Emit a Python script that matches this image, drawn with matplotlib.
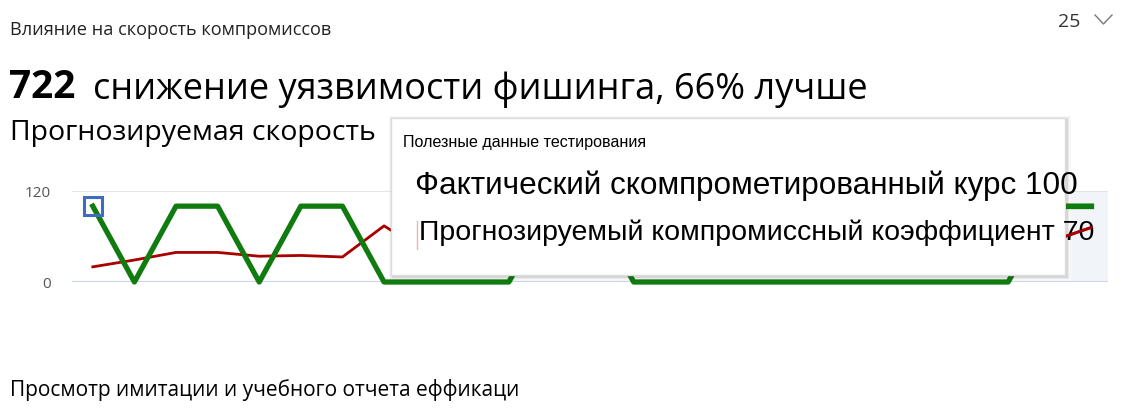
import matplotlib
matplotlib.use("Agg")
import matplotlib.pyplot as plt
from matplotlib.patches import Rectangle
from matplotlib.lines import Line2D

W, H = 1122, 415

# data (points under the tooltip are rough guesses)
points = list(range(25))
actual = [100, 0, 100, 100, 0, 100, 100, 0, 0, 0, 0, 100, 100,
          0, 0, 0, 0, 0, 0, 0, 0, 0, 0, 100, 100]
predicted = [20, 29, 39, 39, 34, 35, 33, 74, 40, 38, 36, 35, 38,
             40, 42, 40, 38, 36, 40, 45, 42, 40, 45, 53, 72]
y_ticks = [0, 120]

title = "Влияние на скорость компромиссов"
big_num = "722"
headline = "снижение уязвимости фишинга, 66% лучше"
subtitle = "Прогнозируемая скорость"
footer = "Просмотр имитации и учебного отчета еффикаци"
tip_title = "Полезные данные тестирования"
tip_actual = "Фактический скомпрометированный курс 100"
tip_pred = "Прогнозируемый компромиссный коэффициент 70"

GREEN = "#107c10"
RED = "#a80000"
UI = ["Open Sans", "DejaVu Sans"]
TIP = ["Liberation Sans Narrow", "Liberation Sans", "DejaVu Sans"]


def px(x, y):
    return x / W, 1 - y / H


fig = plt.figure(figsize=(W / 100, H / 100), dpi=100)
fig.patch.set_facecolor("white")

# plot area: x 72..1108, y(120)=191, y(0)=282
ax = fig.add_axes([72 / W, 1 - 282 / H, (1108 - 72) / W, 91 / H])
ax.set_xlim(-0.5, 24.4)
ax.set_ylim(0, 120)
for s in ax.spines.values():
    s.set_visible(False)
ax.set_xticks([])
ax.set_yticks(y_ticks)
ax.set_yticklabels([str(v) for v in y_ticks], color="#555555", fontsize=11, family=UI)
ax.tick_params(axis="y", length=0, pad=15)
ax.axhline(120, color="#e1e1e1", lw=1.2, zorder=1)
ax.axhline(0, color="#c9d5ea", lw=1.5, zorder=1)
ax.axvspan(23.5, 24.4, ymin=0, ymax=1, color="#f1f4f9", lw=0, zorder=0)

ax.plot(points, predicted, color=RED, lw=2.0, zorder=3)
ax.plot(points, actual, color=GREEN, lw=3.8, zorder=4, clip_on=False)
# hover marker on the first point
ax.plot(points[0], actual[0], marker="s", ms=13, mfc="none", mec="#3f6cc0",
        mew=2.2, zorder=5, clip_on=False)

# header texts
fig.text(*px(10, 30), title, fontsize=13.1, family=UI, va="center", color="#222222")
fig.text(*px(9, 87), big_num, fontsize=28, family=UI, weight="bold", va="center")
fig.text(*px(93, 90), headline, fontsize=26, family=UI, va="center")
fig.text(*px(10, 133), subtitle, fontsize=20.5, family=UI, va="center")
fig.text(*px(10, 390), footer, fontsize=15, family=UI, va="center")
fig.text(*px(1080, 22), "25", fontsize=14, family=UI, va="center", ha="right",
         color="#333333")
fig.add_artist(Line2D([1095 / W, 1103.5 / W, 1112 / W],
                      [1 - 15 / H, 1 - 24 / H, 1 - 15 / H],
                      transform=fig.transFigure, color="#777777", lw=1))

# tooltip box with a soft shadow
x0, y0, x1, y1 = 391, 118, 1065, 275
for k, a in [(4, 0.03), (2.5, 0.05), (1, 0.08)]:
    fig.add_artist(Rectangle(px(x0 - k + 1.5, y1 + k + 1.5), (x1 - x0 + 2 * k) / W,
                             (y1 - y0 + 2 * k) / H, transform=fig.transFigure,
                             facecolor="black", alpha=a, lw=0, zorder=6))
fig.add_artist(Rectangle(px(x0, y1), (x1 - x0) / W, (y1 - y0) / H,
                         transform=fig.transFigure, facecolor="white",
                         edgecolor="#dcdcdc", lw=1, zorder=7))
fig.text(*px(403, 143), tip_title, fontsize=11.6, family=TIP, va="center", zorder=8)
fig.text(*px(415, 186), tip_actual, fontsize=22.7, family=TIP, va="center", zorder=8)
fig.text(*px(419, 233), tip_pred, fontsize=20.5, family=TIP, va="center", zorder=8)
fig.add_artist(Line2D([417 / W, 417 / W], [1 - 221 / H, 1 - 249 / H],
                      transform=fig.transFigure, color="#e8b4b4", lw=1, zorder=8))

# the chart lines stick out past the right edge of the tooltip and over its text
tail_clip = Rectangle(px(1066, 282), (1108 - 1066) / W, 91 / H,
                      transform=fig.transFigure)
for vals, col, lw in [(predicted, RED, 2.0), (actual, GREEN, 3.8)]:
    seg = Line2D(points[-2:], vals[-2:], transform=ax.transData, color=col,
                 lw=lw, zorder=9)
    seg.set_clip_path(tail_clip)
    fig.add_artist(seg)

fig.savefig("out.png", dpi=100)
